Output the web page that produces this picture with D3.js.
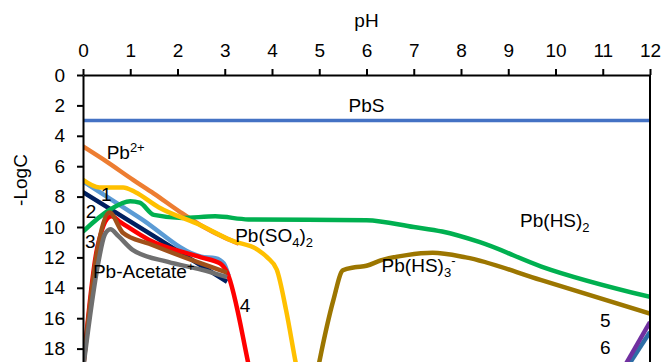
<!DOCTYPE html>
<html>
<head>
<meta charset="utf-8">
<script src="https://cdn.jsdelivr.net/npm/d3@7"></script>
<style>
  body { margin: 0; background: #fff; }
  svg { display: block; font-family: "Liberation Sans", Arial, sans-serif; }
  .axis path, .axis line { stroke: #000; stroke-width: 2; }
  .axis text { font-size: 19px; fill: #000; }
  .lbl { font-size: 19px; fill: #000; }
</style>
</head>
<body>
<div id="canvas"></div>
<script>
// DATA  [pH, -logC]
const pbS       = [[0, 3], [12, 3]];
const pb2       = [[0, 4.7], [0.5, 5.7], [1.06, 6.9], [1.5, 7.8], [2.05, 9.0], [2.5, 9.9], [3.0, 10.7], [3.3, 11.1]];
const curve1    = [[0, 7.0], [1.2, 9.4], [2.5, 11.95], [2.8, 12.05], [2.98, 12.4], [3.08, 13.2]];
const curve2    = [[0, 7.7], [1.5, 10.6], [3.05, 13.6]];
const curve4    = [[0, 19.4], [0.3, 11.4], [0.6, 9.3], [0.8, 9.7], [1.4, 10.85], [2.5, 12.0], [2.9, 12.4], [3.05, 13.0], [3.5, 19], [3.6, 20.5]];
const curve3    = [[0, 19.4], [0.3, 11.6], [0.56, 9.05], [0.85, 10.4], [1.4, 11.1], [2.5, 12.4], [3.05, 13.0]];
const acetate   = [[0, 19.4], [0.32, 12.4], [0.46, 10.5], [0.58, 10.15], [0.75, 10.6], [1.05, 11.5], [1.8, 12.3], [2.5, 12.8], [3.05, 13.3]];
const pbHS2     = [[0, 10.3], [0.55, 8.9], [1.0, 8.3], [1.2, 8.4], [1.5, 9.2], [2.1, 9.4], [2.8, 9.3], [3.5, 9.5], [6.0, 9.55], [7.0, 10.0], [7.6, 10.3], [8.4, 11.0], [9.7, 12.6], [12, 14.6]];
const pbSO42    = [[0, 6.9], [0.35, 7.4], [0.85, 7.4], [1.1, 7.7], [1.6, 8.7], [2.5, 9.9], [3.15, 10.9], [3.7, 11.5], [3.9, 12.0], [4.1, 12.8], [4.3, 15.5], [4.5, 18.9], [4.6, 20.5]];
const pbHS3     = [[4.9, 20.5], [5.0, 18.9], [5.3, 14.8], [5.5, 12.85], [5.75, 12.65], [6.0, 12.55], [6.3, 12.2], [6.85, 11.85], [7.4, 11.7], [8.1, 12.0], [9.7, 13.5], [12, 15.7]];
const curve6    = [[11.5, 19.3], [12, 16.9]];
const curve5    = [[11.5, 18.95], [12, 16.25]];

const xTicks = d3.range(0, 13, 1);
const yTicks = d3.range(0, 19, 2);

const series = [
  { name: "Pb2+", data: pb2, color: "#ED7D31" },
  { name: "1", data: curve1, color: "#5B9BD5" },
  { name: "2", data: curve2, color: "#002060" },
  { name: "Pb(HS)2", data: pbHS2, color: "#00B050" },
  { name: "4", data: curve4, color: "#FF0000" },
  { name: "3", data: curve3, color: "#A0501A" },
  { name: "Pb-Acetate+", data: acetate, color: "#6F6F6F" },
  { name: "Pb(SO4)2", data: pbSO42, color: "#FFC000" },
  { name: "Pb(HS)3-", data: pbHS3, color: "#9C7600" },
  { name: "6", data: curve6, color: "#2E6EA6" },
  { name: "5", data: curve5, color: "#7030A0" },
  { name: "PbS", data: pbS, color: "#4472C4", width: 3.5 }
];

// DIMENSIONS
const width = 663;
const height = 362;
const margin = { top: 75, left: 83, right: 13 };
const plot_width = width - margin.left - margin.right;
const plot_height = 20 * 15.2;

const canvas = d3.select("#canvas").append("svg")
  .attr("width", width)
  .attr("height", height);

// SCALES
const xScale = d3.scaleLinear().domain([0, 12]).range([0, plot_width]);
const yScale = d3.scaleLinear().domain([0, 20]).range([0, plot_height]);

const plot = canvas.append("g")
  .attr("transform", `translate(${margin.left}, ${margin.top})`);

canvas.append("defs").append("clipPath").attr("id", "plot")
  .append("rect").attr("width", plot_width).attr("height", plot_height);

// LINES
const line = d3.line()
  .x(d => xScale(d[0]))
  .y(d => yScale(d[1]))
  .curve(d3.curveMonotoneX);

plot.append("g").attr("clip-path", "url(#plot)")
  .selectAll("path")
  .data(series)
  .join("path")
  .attr("d", d => line(d.data))
  .attr("fill", "none")
  .attr("stroke", d => d.color)
  .attr("stroke-width", d => d.width || 4.5)
  .attr("stroke-linejoin", "round");

// AXES
plot.append("g").attr("class", "axis")
  .call(d3.axisTop(xScale).tickValues(xTicks).tickFormat(d3.format("d")).tickSize(6).tickSizeOuter(0).tickPadding(12))
  .call(g => g.selectAll("text").attr("dy", 0));

plot.append("g").attr("class", "axis")
  .call(d3.axisLeft(yScale).tickValues(yTicks).tickFormat(d3.format("d")).tickSize(6).tickSizeOuter(0).tickPadding(12));

// right border
plot.append("line")
  .attr("x1", plot_width).attr("x2", plot_width)
  .attr("y1", 0).attr("y2", plot_height)
  .attr("stroke", "#000").attr("stroke-width", 2);

// AXIS TITLES
canvas.append("text").attr("class", "lbl")
  .attr("x", margin.left + xScale(6)).attr("y", 27)
  .attr("text-anchor", "middle").text("pH");

canvas.append("text").attr("class", "lbl")
  .attr("transform", `translate(27, 180) rotate(-90)`)
  .attr("text-anchor", "middle").text("-LogC");

// LABELS  [text parts, pH, -logC, anchor]
const labels = [
  { parts: [["PbS", 0]], x: 6.0, y: 2.45, anchor: "middle" },
  { parts: [["Pb", 0], ["2+", -1]], x: 0.5, y: 5.5 },
  { parts: [["1", 0]], x: 0.38, y: 8.3 },
  { parts: [["2", 0]], x: 0.06, y: 9.4 },
  { parts: [["3", 0]], x: 0.04, y: 11.4 },
  { parts: [["Pb-Acetate", 0], ["+", -1]], x: 0.21, y: 13.35 },
  { parts: [["4", 0]], x: 3.32, y: 15.6 },
  { parts: [["Pb(SO", 0], ["4", 1], [")", 0], ["2", 1]], x: 3.22, y: 11.0 },
  { parts: [["Pb(HS)", 0], ["3", 1], ["-", -1]], x: 6.32, y: 12.95 },
  { parts: [["Pb(HS)", 0], ["2", 1]], x: 9.25, y: 10.0 },
  { parts: [["5", 0]], x: 10.94, y: 16.55 },
  { parts: [["6", 0]], x: 10.94, y: 18.35 }
];

labels.forEach(l => {
  const t = plot.append("text").attr("class", "lbl")
    .attr("x", xScale(l.x)).attr("y", yScale(l.y))
    .attr("text-anchor", l.anchor || "start");
  let shift = 0;
  l.parts.forEach(([s, pos]) => {
    const target = pos === 0 ? 0 : (pos > 0 ? 5 : -7);
    t.append("tspan")
      .attr("dy", target - shift)
      .style("font-size", pos === 0 ? "19px" : "13px")
      .text(s);
    shift = target;
  });
});
</script>
</body>
</html>
